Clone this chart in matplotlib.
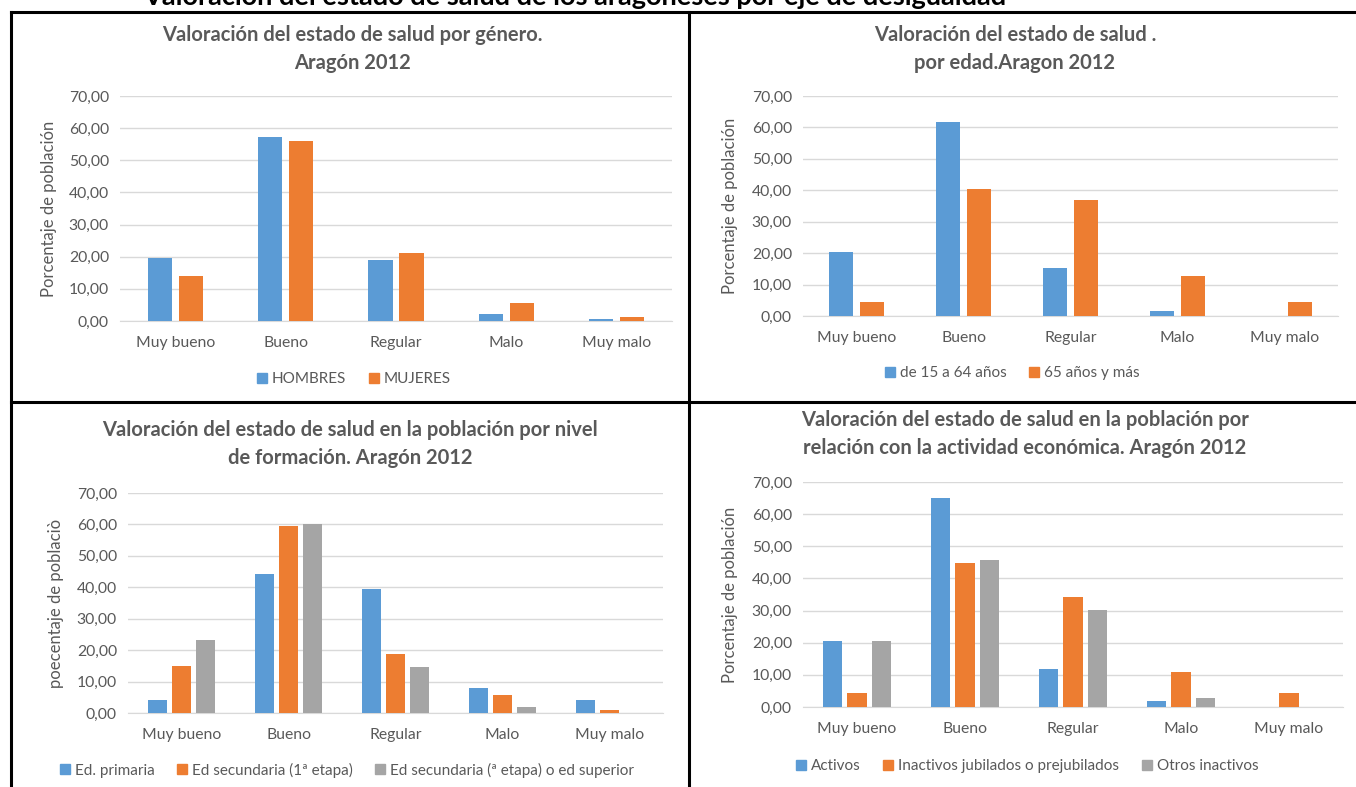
import numpy as np
import matplotlib.pyplot as plt
from matplotlib.lines import Line2D
from matplotlib.ticker import FuncFormatter

plt.rcParams['font.family'] = ['Lato', 'DejaVu Sans']

W, H = 1356, 787

categorias = ["Muy bueno", "Bueno", "Regular", "Malo", "Muy malo"]

# genero
hombres = [19.6, 57.3, 19.1, 2.2, 0.5]
mujeres = [13.9, 56.0, 21.3, 5.7, 1.4]

# edad
edad_15_64 = [20.5, 61.7, 15.3, 1.5, 0.0]
edad_65_mas = [4.6, 40.4, 37.0, 12.7, 4.6]

# nivel de formacion
ed_primaria = [4.1, 44.1, 39.3, 8.1, 4.1]
ed_sec_1 = [15.0, 59.4, 18.8, 5.8, 1.1]
ed_sec_2_sup = [23.3, 60.2, 14.6, 2.0, 0.0]

# actividad economica
activos = [20.6, 64.9, 11.9, 2.0, 0.0]
jubilados = [4.5, 44.8, 34.1, 11.0, 4.5]
otros_inactivos = [20.6, 45.8, 30.1, 2.8, 0.0]

AZUL = "#5B9BD5"
NARANJA = "#ED7D31"
GRIS = "#A5A5A5"
TEXTO = "#595959"
REJILLA = "#D9D9D9"


def fx(x):
    return x / W


def fy(y):
    return 1 - y / H


def panel(fig, left, right, top, bottom, series, labels, colors, width, step,
          title, tx, ty, ylabel, ylx, legend_xy, ncol):
    ax = fig.add_axes([fx(left), fy(bottom), fx(right - left), (bottom - top) / H])
    x = np.arange(len(categorias))
    n = len(series)
    for k, (vals, lab, col) in enumerate(zip(series, labels, colors)):
        off = (k - (n - 1) / 2) * step
        ax.bar(x + off, vals, width, color=col, label=lab, zorder=3)
    ax.set_xlim(-0.5, len(categorias) - 0.5)
    ax.set_ylim(0, 70)
    ax.set_yticks(np.arange(0, 71, 10))
    ax.yaxis.set_major_formatter(FuncFormatter(lambda v, p: f"{v:.2f}".replace(".", ",")))
    ax.set_xticks(x)
    ax.set_xticklabels(categorias)
    ax.grid(axis='y', color=REJILLA, linewidth=1, zorder=0)
    for s in ['top', 'right', 'left']:
        ax.spines[s].set_visible(False)
    ax.spines['bottom'].set_color(REJILLA)
    ax.tick_params(axis='both', length=0, colors=TEXTO, labelsize=11.3)
    ax.tick_params(axis='x', pad=11)
    ax.tick_params(axis='y', pad=8)
    ax.set_ylabel(ylabel, color=TEXTO, fontsize=12)
    # la etiqueta se ancla por su borde derecho
    ax.yaxis.set_label_coords((ylx + 7 - left) / (right - left), 0.5)
    fig.text(fx(tx), fy(ty), title, ha='center', va='center', fontsize=14.5,
             fontweight='bold', color=TEXTO, linespacing=1.45)
    handles = [Line2D([], [], marker='s', linestyle='none', markersize=7.5,
                      color=c) for c in colors]
    fig.legend(handles, labels, loc='center', bbox_to_anchor=(fx(legend_xy[0]), fy(legend_xy[1])),
               ncol=ncol, frameon=False, fontsize=11, handletextpad=0.05,
               handlelength=1.2, columnspacing=1.2, labelcolor=TEXTO)
    return ax


fig = plt.figure(figsize=(W / 100, H / 100), dpi=100)

fig.text(fx(575), fy(5), "Valoración del estado de salud de los aragoneses por eje de desigualdad",
         ha='center', va='baseline', fontsize=19.5, fontweight='bold', color='black')

panel(fig, 120, 672, 96, 321, [hombres, mujeres], ["HOMBRES", "MUJERES"],
      [AZUL, NARANJA], 0.22, 0.28,
      "Valoración del estado de salud por género.\nAragón 2012", 352, 49,
      "Porcentaje de población", 50, (352, 379), 2)

panel(fig, 803, 1338, 96, 316, [edad_15_64, edad_65_mas], ["de 15 a 64 años", "65 años y más"],
      [AZUL, NARANJA], 0.22, 0.29,
      "Valoración del estado de salud .\npor edad.Aragon 2012", 1015, 49,
      "Porcentaje de población", 731, (1010, 373), 2)

panel(fig, 128, 663, 493, 713, [ed_primaria, ed_sec_1, ed_sec_2_sup],
      ["Ed. primaria", "Ed secundaria (1ª etapa)", "Ed secundaria (ª etapa) o ed superior"],
      [AZUL, NARANJA, GRIS], 0.17, 0.225,
      "Valoración del estado de salud en la población por nivel\nde formación. Aragón 2012", 350, 444,
      "poecentaje de poblaciò", 57, (345, 770), 3)

panel(fig, 803, 1343, 482, 707, [activos, jubilados, otros_inactivos],
      ["Activos", "Inactivos jubilados o prejubilados", "Otros inactivos"],
      [AZUL, NARANJA, GRIS], 0.18, 0.225,
      "Valoración del estado de salud en la población por\nrelación con la actividad económica. Aragón 2012", 1025, 434,
      "Porcentaje de población", 731, (1025, 766), 3)

# marcos de la tabla
lw = 2.2
fig.add_artist(Line2D([fx(11), 1], [fy(12), fy(12)], color='black', lw=lw))
fig.add_artist(Line2D([fx(11), 1], [fy(402), fy(402)], color='black', lw=lw))
fig.add_artist(Line2D([fx(11), fx(11)], [fy(12), 0], color='black', lw=lw))
fig.add_artist(Line2D([fx(689), fx(689)], [fy(12), 0], color='black', lw=lw))

fig.savefig("out.png", dpi=100)
